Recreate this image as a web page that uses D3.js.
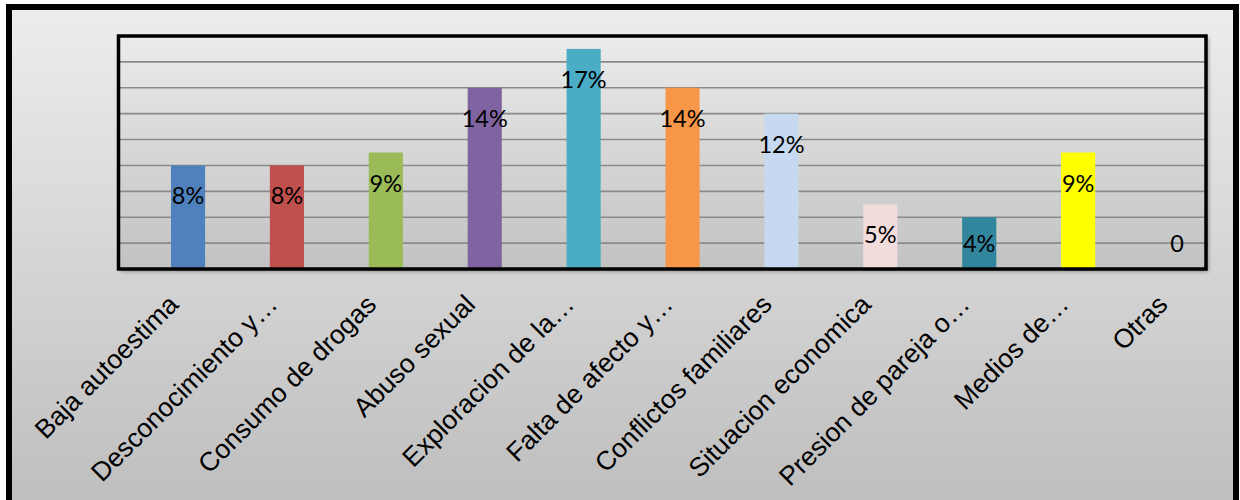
<!DOCTYPE html>
<html>
<head>
<meta charset="utf-8">
<script src="https://cdn.jsdelivr.net/npm/d3@7"></script>
<style>
  html, body { margin: 0; padding: 0; background: #fff; }
  svg { display: block; }
</style>
</head>
<body>
<div id="chart"></div>
<script>
const categories = [
  "Baja autoestima", "Desconocimiento y…", "Consumo de drogas", "Abuso sexual",
  "Exploracion de la…", "Falta de afecto y…", "Conflictos familiares",
  "Situacion economica", "Presion de pareja o…", "Medios de…", "Otras"
];
const values = [0.08, 0.08, 0.09, 0.14, 0.17, 0.14, 0.12, 0.05, 0.04, 0.09, 0];
const valueLabels = ["8%", "8%", "9%", "14%", "17%", "14%", "12%", "5%", "4%", "9%", "0"];
const barColors = [
  "#4f81bd", "#c0504d", "#9bbb59", "#8064a2", "#4bacc6", "#f79646",
  "#c6d9f1", "#f2dcdb", "#31859c", "#ffff00", "none"
];
const gridTicks = [0, 0.02, 0.04, 0.06, 0.08, 0.10, 0.12, 0.14, 0.16, 0.18];

const width = 1240, height = 500;
const plot = {left: 118.5, top: 36, right: 1206, bottom: 269};

const svg = d3.select("#chart").append("svg")
    .attr("width", width)
    .attr("height", height);

const defs = svg.append("defs");

const outerGrad = defs.append("linearGradient")
    .attr("id", "outerGrad")
    .attr("x1", 0).attr("y1", 0).attr("x2", 0).attr("y2", 1);
outerGrad.append("stop").attr("offset", "0%").attr("stop-color", "#ededed");
outerGrad.append("stop").attr("offset", "100%").attr("stop-color", "#bdbdbd");

const plotGrad = defs.append("linearGradient")
    .attr("id", "plotGrad")
    .attr("x1", 0).attr("y1", 0).attr("x2", 0).attr("y2", 1);
plotGrad.append("stop").attr("offset", "0%").attr("stop-color", "#ebebeb");
plotGrad.append("stop").attr("offset", "100%").attr("stop-color", "#c2c2c2");

const shadow = defs.append("filter")
    .attr("id", "shadow")
    .attr("x", "-5%").attr("y", "-5%").attr("width", "110%").attr("height", "115%");
shadow.append("feDropShadow")
    .attr("dx", 2).attr("dy", 2).attr("stdDeviation", 2)
    .attr("flood-color", "#000").attr("flood-opacity", 0.45);

// outer frame
svg.append("rect")
    .attr("x", 9).attr("y", 7)
    .attr("width", 1227).attr("height", 510)
    .attr("fill", "url(#outerGrad)")
    .attr("stroke", "#000")
    .attr("stroke-width", 6);

// bands sit a bit right of centre, as in the original
const x = d3.scaleBand()
    .domain(categories)
    .range([plot.left, plot.right])
    .paddingInner(0.655)
    .paddingOuter(0.3255)
    .align(0.815);

const y = d3.scaleLinear()
    .domain([0, 0.18])
    .range([plot.bottom, plot.top]);

// plot background
svg.append("rect")
    .attr("x", plot.left).attr("y", plot.top)
    .attr("width", plot.right - plot.left)
    .attr("height", plot.bottom - plot.top)
    .attr("fill", "url(#plotGrad)")
    .attr("filter", "url(#shadow)");

// gridlines
svg.append("g")
    .selectAll("line")
    .data(gridTicks)
    .join("line")
      .attr("x1", plot.left).attr("x2", plot.right)
      .attr("y1", d => y(d)).attr("y2", d => y(d))
      .attr("stroke", "#8a8a8a")
      .attr("stroke-width", 1.6);

// bars
svg.append("g")
    .selectAll("rect")
    .data(categories)
    .join("rect")
      .attr("x", d => x(d))
      .attr("y", (d, i) => y(values[i]))
      .attr("width", x.bandwidth())
      .attr("height", (d, i) => y(0) - y(values[i]))
      .attr("fill", (d, i) => barColors[i]);

// plot border
svg.append("rect")
    .attr("x", plot.left).attr("y", plot.top)
    .attr("width", plot.right - plot.left)
    .attr("height", plot.bottom - plot.top)
    .attr("fill", "none")
    .attr("stroke", "#000")
    .attr("stroke-width", 3.5);

// data labels
svg.append("g")
    .selectAll("text")
    .data(categories)
    .join("text")
      .attr("x", d => x(d) + x.bandwidth() / 2)
      .attr("y", (d, i) => Math.min(y(values[i]) + 30, plot.bottom - 26))
      .attr("text-anchor", "middle")
      .attr("dominant-baseline", "central")
      .attr("font-family", "Lato, 'Open Sans', sans-serif")
      .attr("font-size", 23.5)
      .attr("fill", "#000")
      .text((d, i) => valueLabels[i]);

// category labels
svg.append("g")
    .selectAll("text")
    .data(categories)
    .join("text")
      .attr("transform", d => `translate(${x(d) + x.bandwidth() / 2 - 8},${306})rotate(-45)`)
      .attr("text-anchor", "end")
      .attr("font-family", "'Liberation Sans', Arial, sans-serif")
      .attr("font-size", 26.5)
      .attr("fill", "#000")
      .text(d => d);
</script>
</body>
</html>
